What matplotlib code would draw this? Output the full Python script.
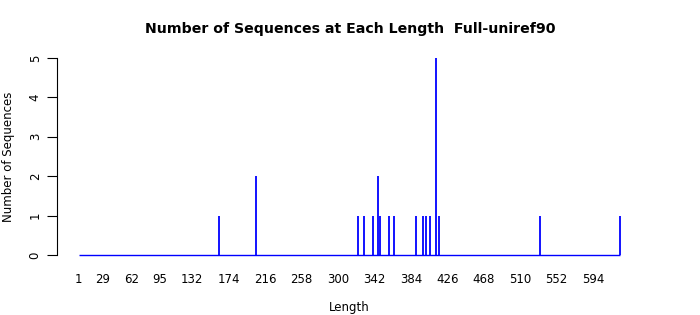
import matplotlib
matplotlib.use("Agg")
import matplotlib.pyplot as plt

# Lengths with at least one sequence, and how many
lengths = [163, 205, 323, 330, 340, 346, 349, 359, 365,
           390, 398, 401, 406, 413, 416, 533, 625]
counts = [1, 2, 1, 1, 1, 2, 1, 1, 1,
          1, 1, 1, 1, 5, 1, 1, 1]
x_start = 1
x_end = 625
x_ticks = [1, 29, 62, 95, 132, 174, 216, 258, 300, 342, 384, 426, 468, 510, 552, 594]
y_ticks = [0, 1, 2, 3, 4, 5]

BLUE = "#0000ff"

fig = plt.figure(figsize=(7, 3.15), dpi=100)
ax = fig.add_axes([57 / 700, 52 / 315, (641.5 - 57) / 700, (263 - 50) / 315])

ax.hlines(0, x_start, x_end, color=BLUE, linewidth=1.0)
ax.vlines(lengths, 0, counts, color=BLUE, linewidth=1.3)

pad_x = 0.04 * (x_end - x_start)
ax.set_xlim(x_start - pad_x, x_end + pad_x)
ax.set_ylim(-0.2, 5.2)

for side in ["top", "right", "bottom"]:
    ax.spines[side].set_visible(False)
ax.spines["left"].set_bounds(0, 5)
ax.spines["left"].set_linewidth(0.8)

ax.set_xticks(x_ticks)
ax.set_xticklabels([str(t) for t in x_ticks])
ax.tick_params(axis="x", length=0, pad=7, labelsize=8.5)
ax.set_yticks(y_ticks)
ax.set_yticklabels([str(t) for t in y_ticks], rotation=90, va="center")
ax.tick_params(axis="y", length=7, width=0.8, pad=4, labelsize=8.5)

ax.set_xlabel("Length", fontsize=8.5, va="center")
ax.xaxis.set_label_coords(0.5, -44 / 213)
ax.set_ylabel("Number of Sequences", fontsize=8.5, va="center")
ax.yaxis.set_label_coords(-48 / 584.5, 0.5)
fig.suptitle("Number of Sequences at Each Length  Full-uniref90",
             fontsize=10.2, fontweight="bold", y=1 - 29 / 315, va="center")

fig.savefig("out.png", dpi=100, facecolor="white")
